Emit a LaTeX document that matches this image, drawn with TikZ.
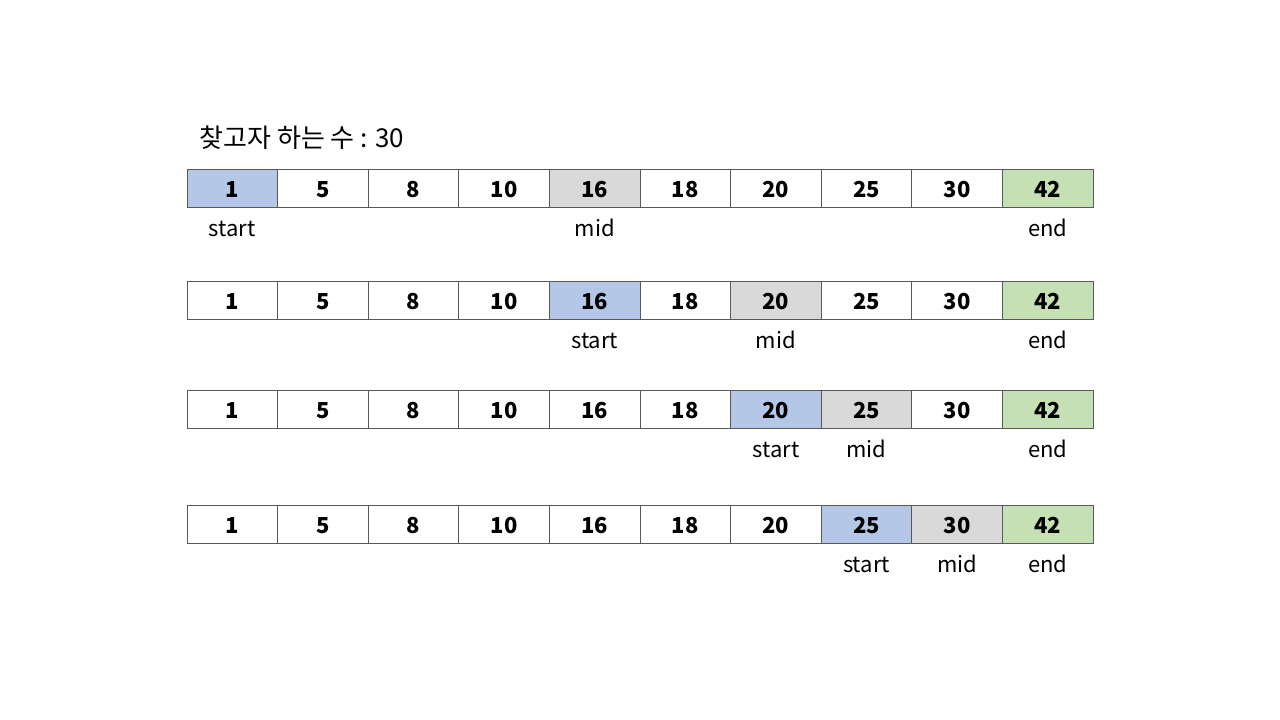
\documentclass[tikz,border=0pt]{standalone}
\usepackage{fontspec}
\setmainfont{Noto Sans CJK KR}
\usetikzlibrary{positioning}
\definecolor{cellblue}{RGB}{180,199,231}
\definecolor{cellgray}{RGB}{217,217,217}
\definecolor{cellgreen}{RGB}{197,224,180}

\begin{document}
\begin{tikzpicture}[
  x=1pt, y=-1pt,
  node distance=13pt,
  every node/.style={font=\fontsize{22}{26}\selectfont},
  cell/.style={draw=black!65, line width=0.9pt, minimum width=90.6pt, minimum height=38pt, inner sep=0pt, text height=19pt, text depth=0pt, font=\fontsize{22}{26}\selectfont\bfseries},
  tag/.style={inner sep=0pt, text height=16pt, text depth=4pt}
]
\useasboundingbox (0,0) rectangle (1280,720);
\node[anchor=base west, font=\fontsize{26}{30}\selectfont] (title) at (196,147) {찾고자 하는 수 : 30};

% one row per search step: start / mid cell index
\foreach \row/\yc/\s/\m in {1/188/1/5, 2/300/5/7, 3/409/7/8, 4/524/8/9} {
  \foreach \v [count=\i] in {1,5,8,10,16,18,20,25,30,42} {
    \ifnum\i=\s \def\fc{cellblue}\else\ifnum\i=\m \def\fc{cellgray}\else\ifnum\i=10 \def\fc{cellgreen}\else\def\fc{white}\fi\fi\fi
    \node[cell, fill=\fc] (r\row c\i) at (141.7+90.6*\i, \yc) {\v};
  }
  \node[tag, below=of r\row c\s] (start\row) {start};
  \node[tag, below=of r\row c\m] (mid\row) {mid};
  \node[tag, below=of r\row c10] (end\row) {end};
}
\end{tikzpicture}
\end{document}
